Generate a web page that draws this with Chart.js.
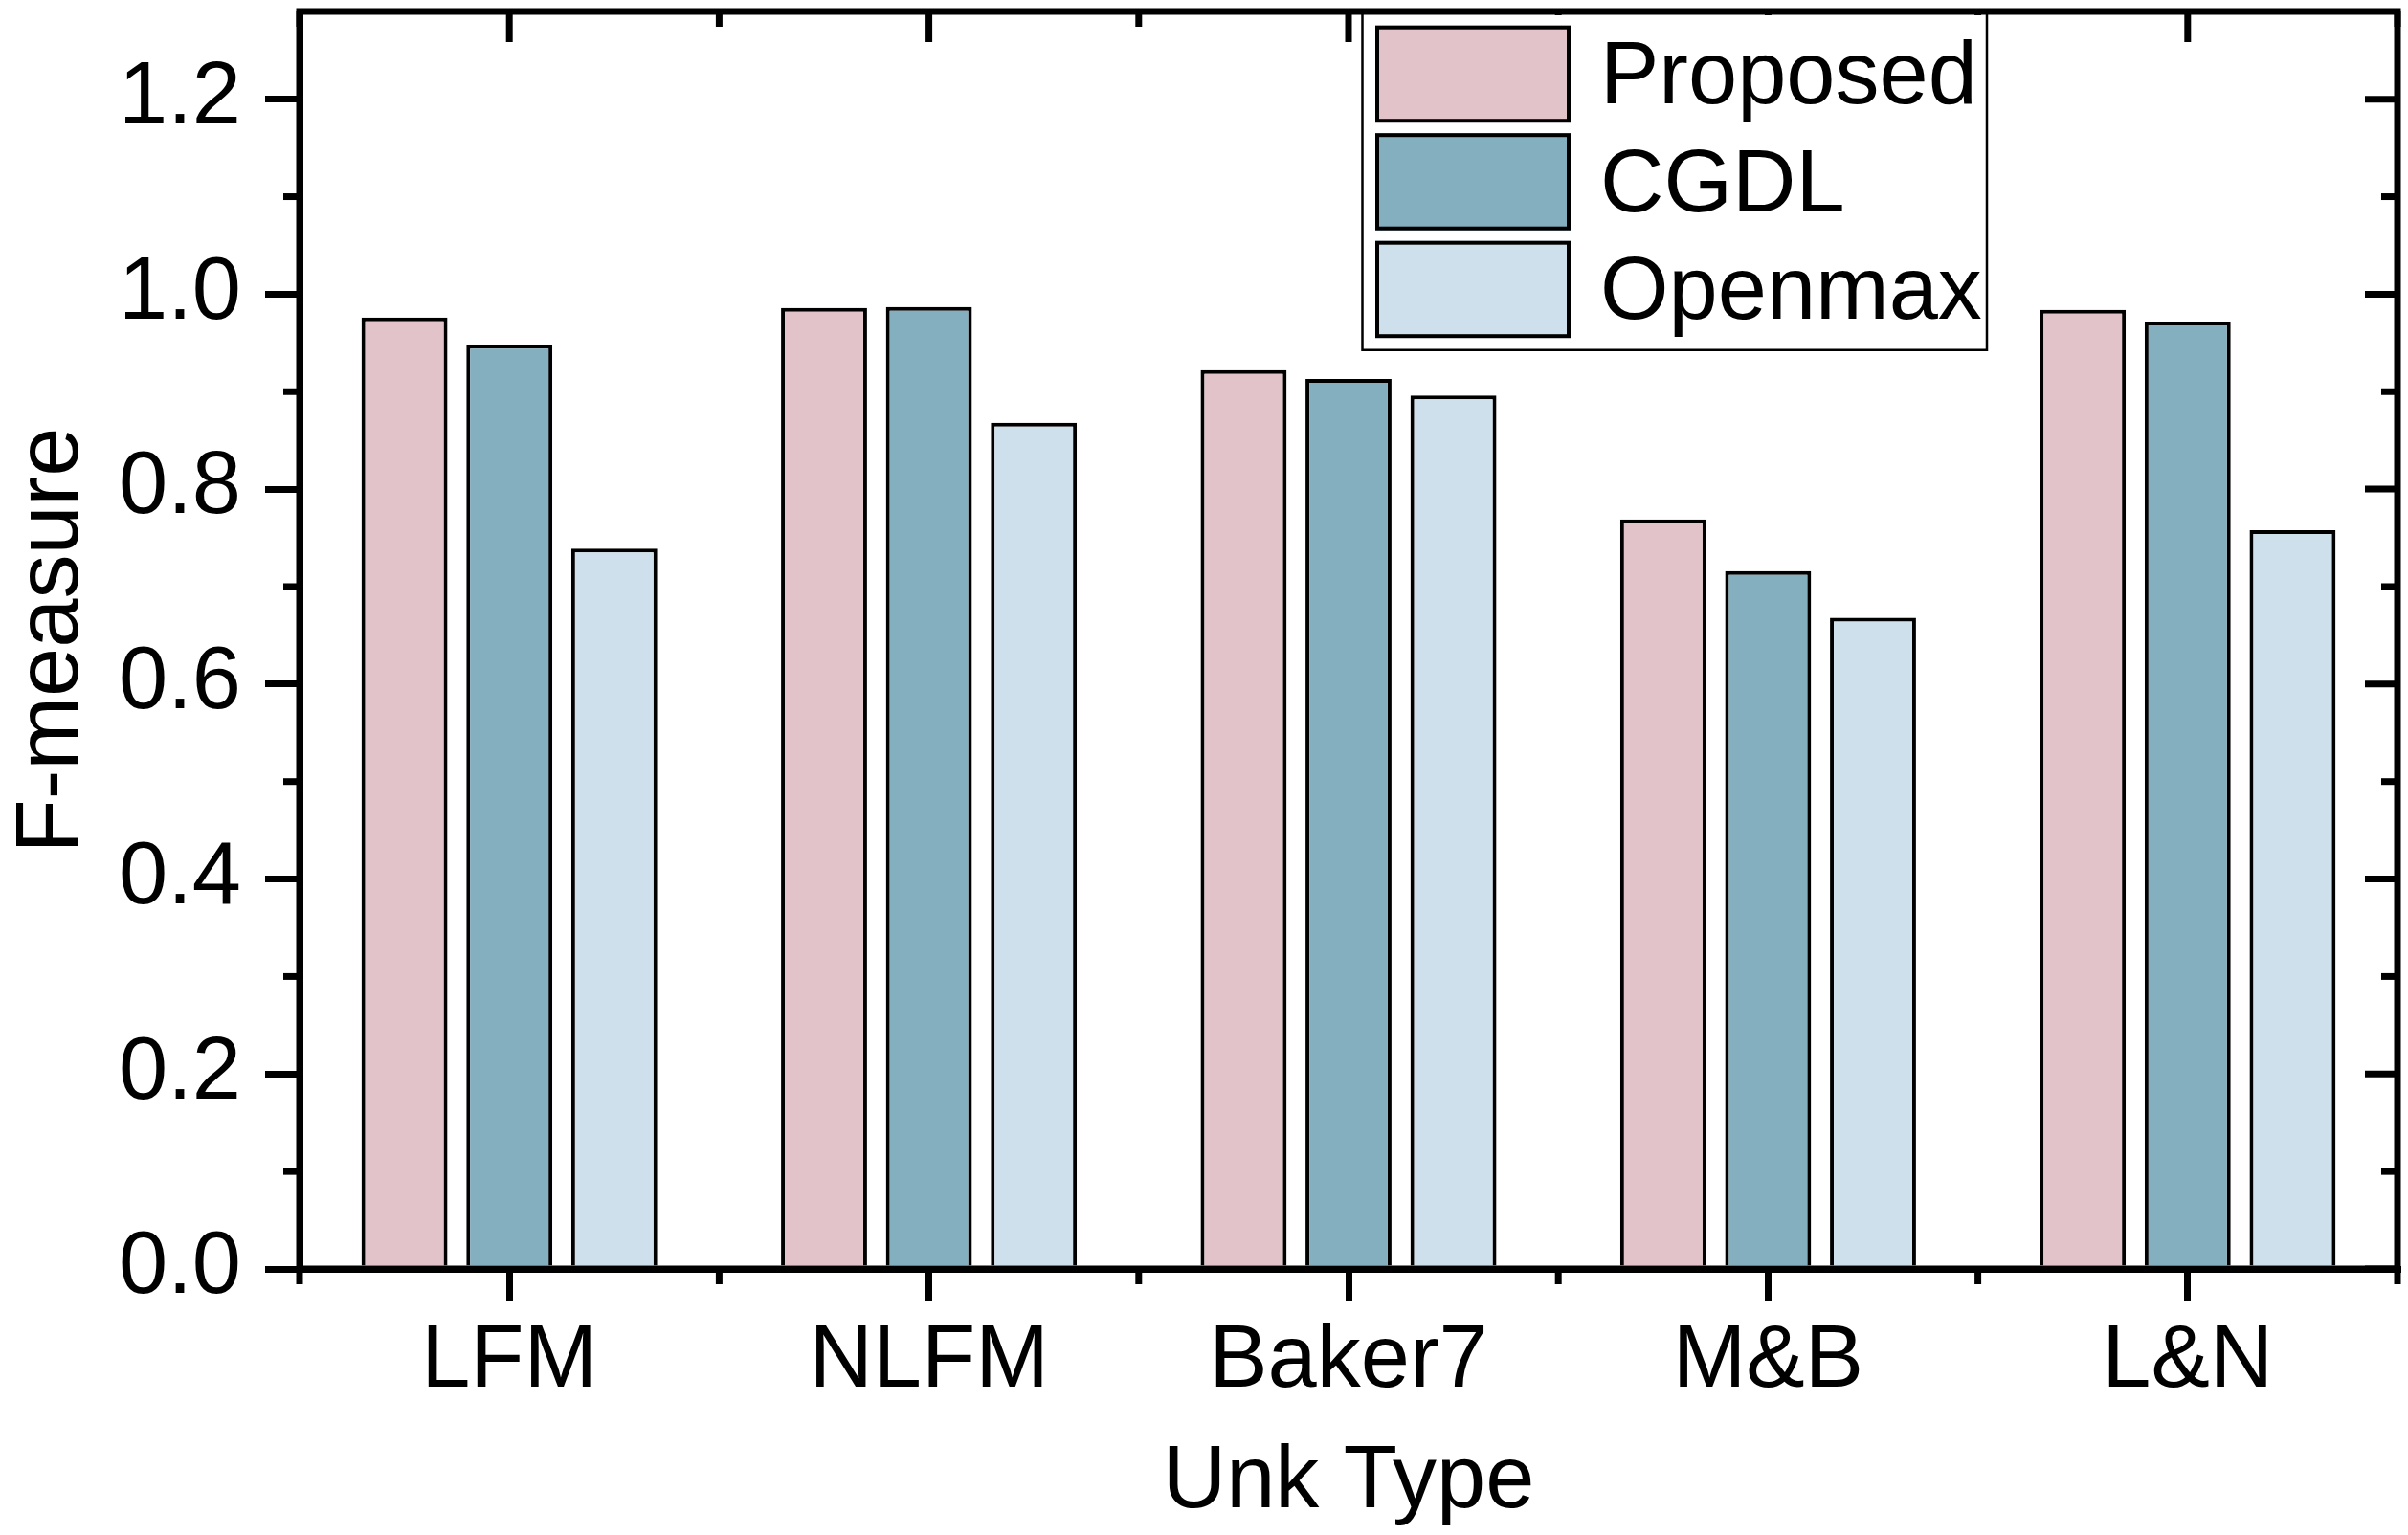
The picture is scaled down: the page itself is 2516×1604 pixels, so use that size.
<!DOCTYPE html>
<html>
<head>
<meta charset="utf-8">
<script src="https://cdn.jsdelivr.net/npm/chart.js@4.4.0/dist/chart.umd.min.js"></script>
<style>
	html, body { margin: 0; padding: 0; background: #fff; }
	canvas { display: block; }
</style>
</head>
<body>
<canvas id="myChart" width="2516" height="1604" style="width:2516px;height:1604px"></canvas>
<script>
// data
const categories = ['LFM', 'NLFM', 'Baker7', 'M&B', 'L&N'];
const seriesNames = ['Proposed', 'CGDL', 'Openmax'];
const proposed = [0.976, 0.986, 0.922, 0.769, 0.984];
const cgdl = [0.948, 0.987, 0.913, 0.716, 0.972];
const openmax = [0.739, 0.868, 0.896, 0.668, 0.758];
const yTicks = [0, 0.2, 0.4, 0.6, 0.8, 1.0, 1.2];
const yMinorTicks = [0.1, 0.3, 0.5, 0.7, 0.9, 1.1];

const FONT = { family: '"Liberation Sans", Arial, sans-serif', size: 92 };
const AXIS_W = 7;

// frame, minor ticks and mirrored ticks on top / right
const framePlugin = {
	id: 'frame',
	afterDatasetsDraw(chart) {
		const ctx = chart.ctx;
		const a = chart.chartArea;
		const x = chart.scales.x;
		const y = chart.scales.y;
		ctx.save();
		ctx.strokeStyle = '#000';
		ctx.lineWidth = AXIS_W;
		ctx.lineCap = 'butt';
		ctx.strokeRect(a.left, a.top, a.right - a.left, a.bottom - a.top);

		function line(x1, y1, x2, y2) {
			ctx.beginPath();
			ctx.moveTo(x1, y1);
			ctx.lineTo(x2, y2);
			ctx.stroke();
		}

		yTicks.forEach(function (v) {
			const py = y.getPixelForValue(v);
			line(a.right, py, a.right - 34, py);
		});
		yMinorTicks.forEach(function (v) {
			const py = y.getPixelForValue(v);
			line(a.left - 17, py, a.left, py);
			line(a.right, py, a.right - 17, py);
		});
		for (let i = 0; i < categories.length; i++) {
			const px = x.getPixelForValue(i);
			line(px, a.top, px, a.top + 32);
		}
		for (let i = 0; i <= categories.length; i++) {
			const px = x.getPixelForValue(i - 0.5);
			line(px, a.bottom, px, a.bottom + 16);
			line(px, a.top, px, a.top + 16);
		}
		ctx.restore();
	}
};

// boxed legend in the upper part of the plot
const legendPlugin = {
	id: 'boxLegend',
	afterDraw(chart) {
		const ctx = chart.ctx;
		const a = chart.chartArea;
		const left = 1423.5, right = 2076, bottom = 365.7;
		ctx.save();
		ctx.fillStyle = '#fff';
		ctx.fillRect(left, a.top + 4, right - left, bottom - a.top - 4);
		ctx.strokeStyle = '#000';
		ctx.lineWidth = 2.5;
		ctx.beginPath();
		ctx.moveTo(left, a.top);
		ctx.lineTo(left, bottom);
		ctx.lineTo(right, bottom);
		ctx.lineTo(right, a.top);
		ctx.stroke();

		ctx.font = FONT.size + 'px ' + FONT.family;
		ctx.textAlign = 'left';
		ctx.textBaseline = 'alphabetic';
		chart.data.datasets.forEach(function (ds, i) {
			const top = 26.7 + i * 112.5;
			ctx.fillStyle = ds.backgroundColor;
			ctx.fillRect(1437, top, 204, 101.5);
			ctx.lineWidth = 4;
			ctx.strokeStyle = '#000';
			ctx.strokeRect(1439, top + 2, 200, 97.5);
			ctx.fillStyle = '#000';
			ctx.fillText(ds.label, 1672, top + 81.5);
		});
		ctx.restore();
	}
};

const barStyle = {
	borderColor: '#000',
	borderWidth: 4,
	borderSkipped: 'bottom',
	categoryPercentage: 0.75,
	barPercentage: 0.82
};

new Chart(document.getElementById('myChart'), {
	type: 'bar',
	data: {
		labels: categories,
		datasets: [
			Object.assign({ label: seriesNames[0], data: proposed, backgroundColor: '#e2c3c9' }, barStyle),
			Object.assign({ label: seriesNames[1], data: cgdl, backgroundColor: '#83afbf' }, barStyle),
			Object.assign({ label: seriesNames[2], data: openmax, backgroundColor: '#cee0eb' }, barStyle)
		]
	},
	options: {
		responsive: false,
		devicePixelRatio: 1,
		animation: false,
		layout: { padding: { top: 12, right: 11, left: 0, bottom: 0 } },
		plugins: {
			legend: { display: false },
			tooltip: { enabled: false }
		},
		scales: {
			x: {
				type: 'category',
				offset: true,
				afterFit(scale) {
					scale.height = 278;
					scale.paddingLeft = 0;
					scale.paddingRight = 0;
				},
				grid: {
					offset: false,
					drawOnChartArea: false,
					drawTicks: true,
					tickLength: 34,
					color: '#000',
					lineWidth: AXIS_W
				},
				border: { display: true, color: '#000', width: AXIS_W },
				ticks: { color: '#000', font: FONT, padding: 8, maxRotation: 0, autoSkip: false },
				title: {
					display: true,
					text: 'Unk Type',
					color: '#000',
					font: FONT,
					padding: { top: 0, bottom: -1 }
				}
			},
			y: {
				min: 0,
				max: 1.29,
				afterFit(scale) {
					scale.width = 313;
					scale.paddingTop = 0;
					scale.paddingBottom = 0;
				},
				afterBuildTicks(scale) {
					scale.ticks = yTicks.map(function (v) { return { value: v }; });
				},
				grid: {
					drawOnChartArea: false,
					drawTicks: true,
					tickLength: 36,
					color: '#000',
					lineWidth: AXIS_W
				},
				border: { display: true, color: '#000', width: AXIS_W },
				ticks: {
					color: '#000',
					font: FONT,
					padding: 25,
					callback: function (v) { return Number(v).toFixed(1); }
				},
				title: {
					display: true,
					text: 'F-measure',
					color: '#000',
					font: FONT,
					padding: { top: 0, bottom: 0 }
				}
			}
		}
	},
	plugins: [framePlugin, legendPlugin]
});
</script>
</body>
</html>
